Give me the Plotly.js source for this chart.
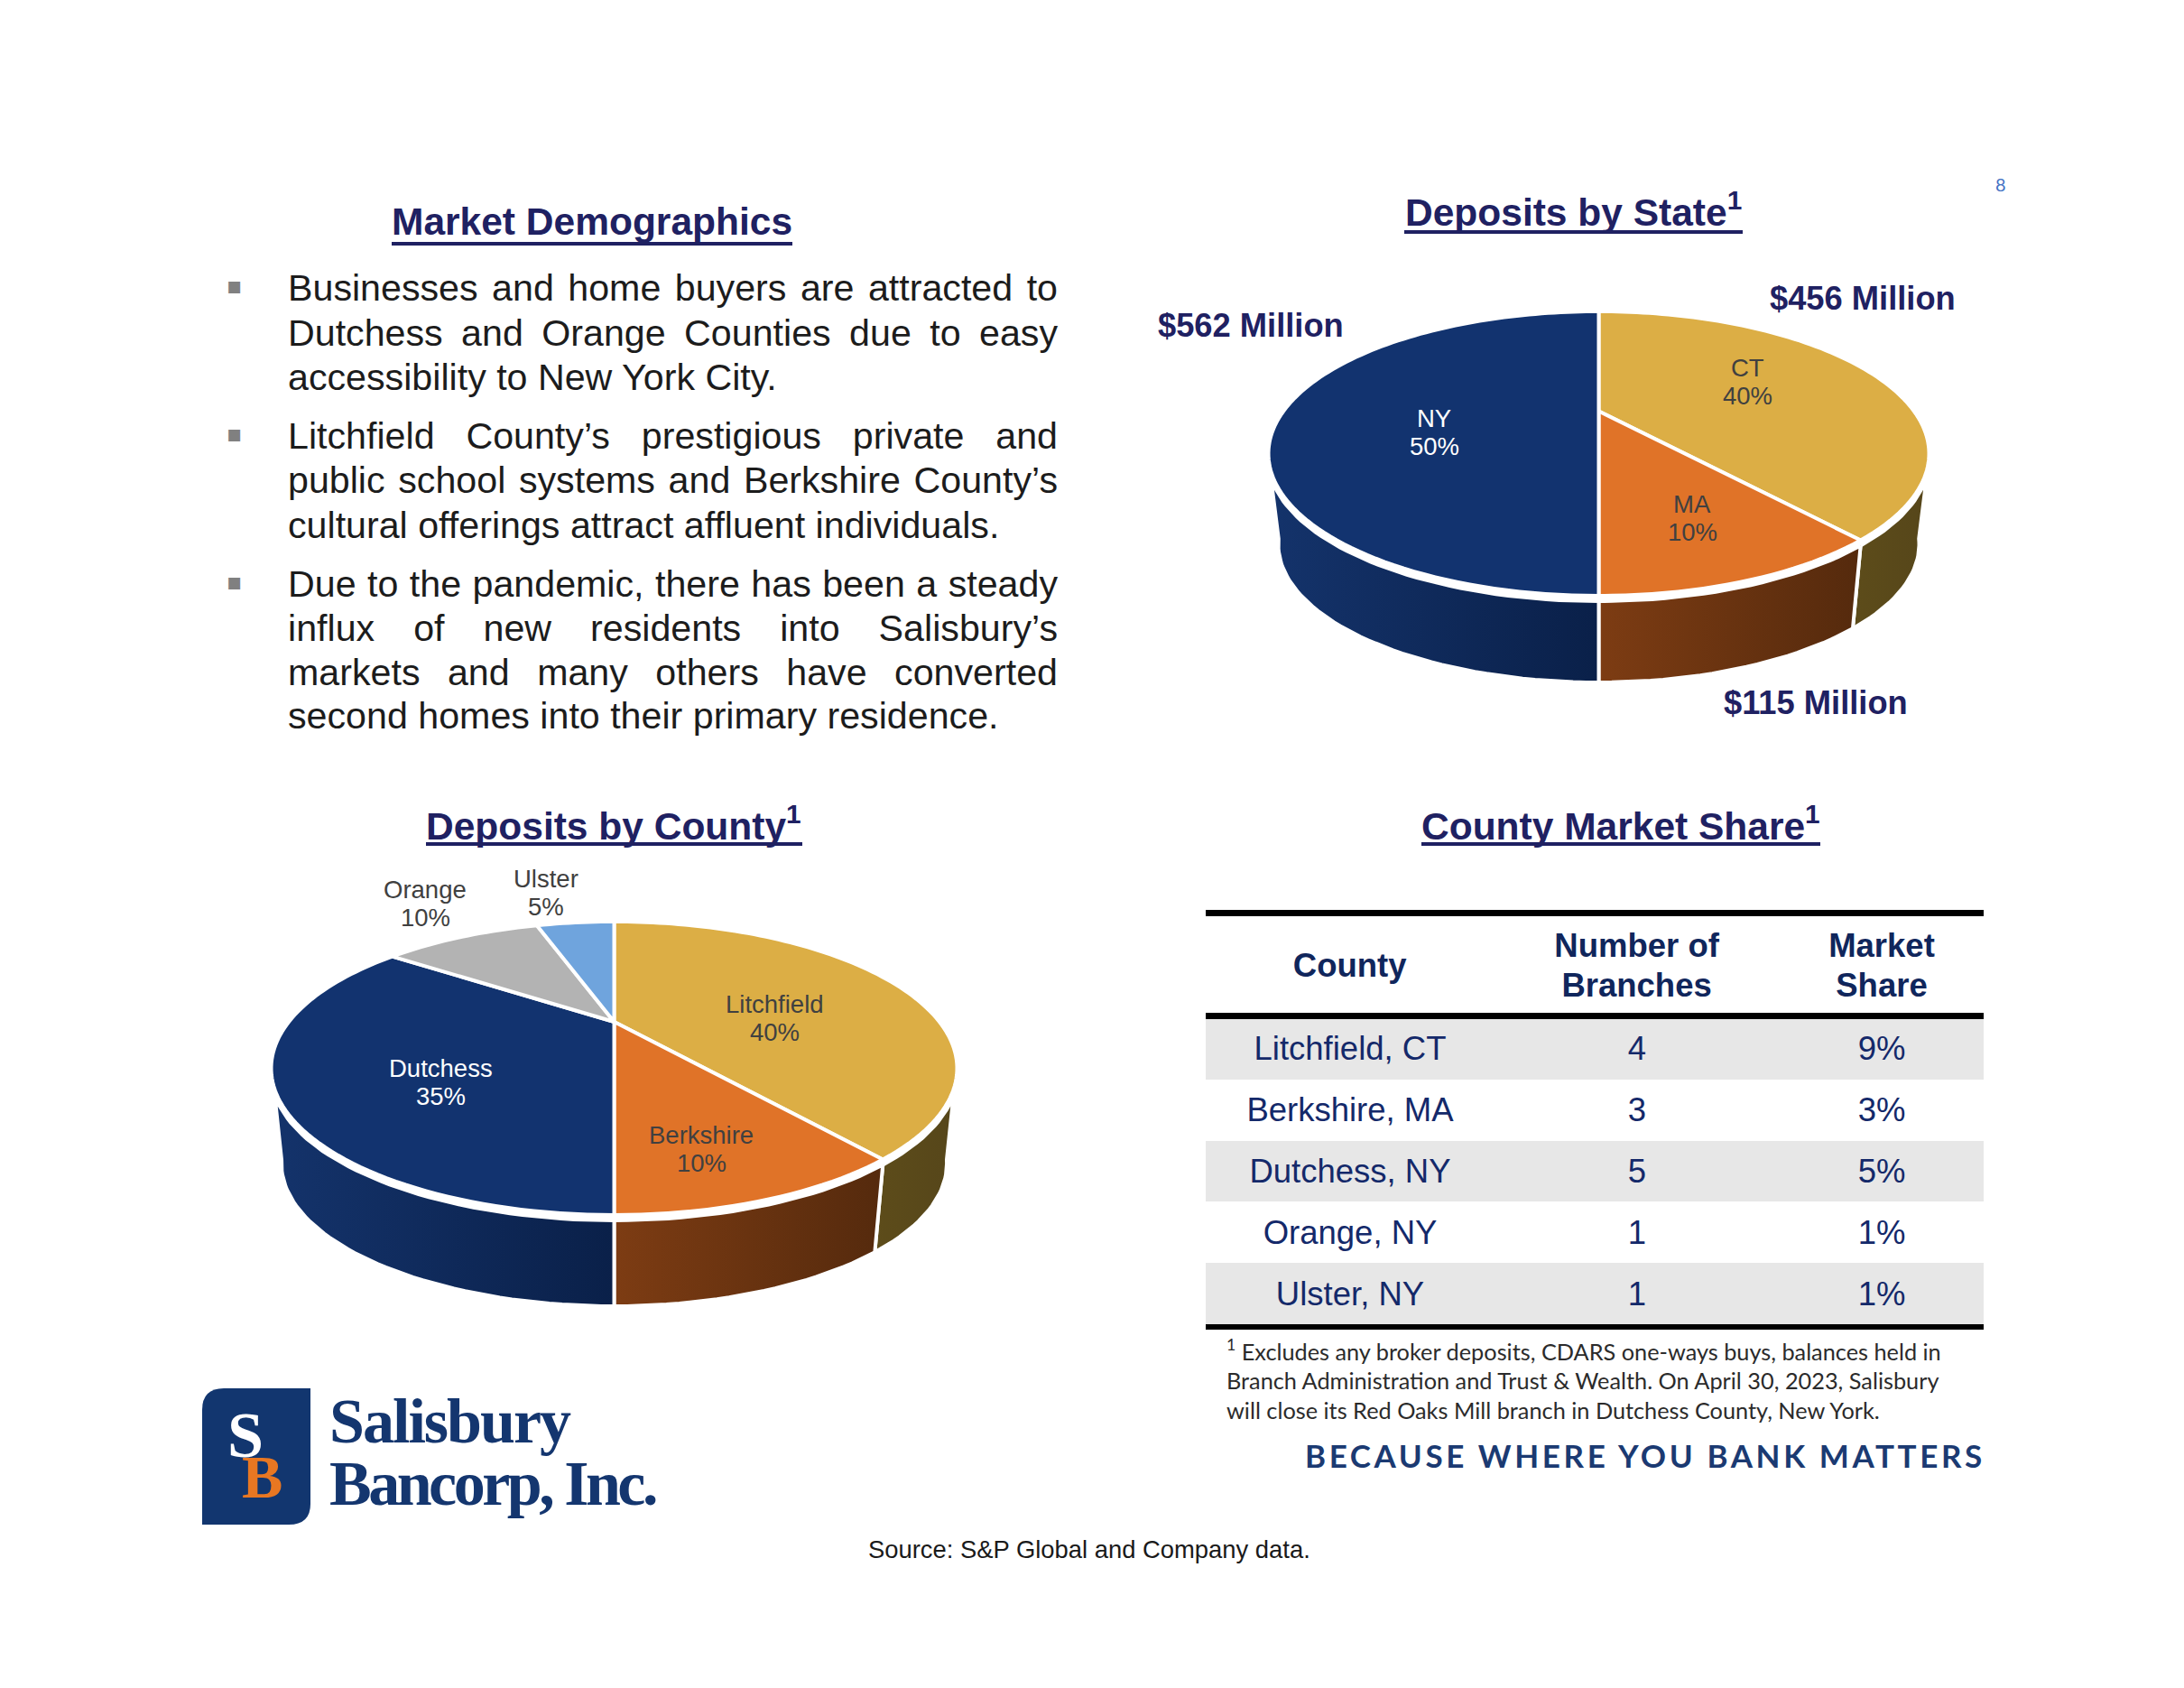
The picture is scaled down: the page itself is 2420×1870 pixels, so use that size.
<!DOCTYPE html>
<html><head><meta charset="utf-8">
<script src="https://cdn.plot.ly/plotly-3.0.1.min.js"></script>
<style>
html,body{margin:0;padding:0;background:#fff}
#chart{width:2420px;height:1870px}
.table .cell-text{transform:translateY(11px)}
</style></head><body><div id="chart"></div>
<script>
// ---- data ----
const stateNames = ['CT','MA','NY'];
const statePercents = [40,10,50];
const stateMillions = [456,115,562];
const countyNames = ['Litchfield','Berkshire','Dutchess','Orange','Ulster'];
const countyPercents = [40,10,35,10,5];
const tableCounties = ['Litchfield, CT','Berkshire, MA','Dutchess, NY','Orange, NY','Ulster, NY'];
const tableBranches = [4,3,5,1,1];
const tableShares = ['9%','3%','5%','1%','1%'];
const tableHeaders = ['County','Number of<br>Branches','Market<br>Share'];
const titles = ['Market Demographics','Deposits by State','Deposits by County','County Market Share'];
const bullets = [
 ['Businesses and home buyers are attracted to','Dutchess and Orange Counties due to easy','accessibility to New York City.'],
 ['Litchfield County’s prestigious private and','public school systems and Berkshire County’s','cultural offerings attract affluent individuals.'],
 ['Due to the pandemic, there has been a steady','influx of new residents into Salisbury’s','markets and many others have converted','second homes into their primary residence.']
];
const footnote = ['<sup>1</sup> Excludes any broker deposits, CDARS one-ways buys, balances held in','Branch Administration and Trust &amp; Wealth. On April 30, 2023, Salisbury','will close its Red Oaks Mill branch in Dutchess County, New York.'];

// ---- styles and placement ----
const NAVY='#12336f',GOLD='#dcae45',ORANGE='#e07328',GREY='#b3b3b3',SKY='#6fa4dd';
const TITLE='#1f2162',INK='#1c1c1c',LABEL='#404040';
const wallNavy=['#14336b','#0a2049'],wallOrange=['#7d3c13','#552a0d'],wallGold=['#5d4c1a','#56461a'],wallGrey=['#777777','#666666'],wallSky=['#445566','#445566'];
const stateColors=[GOLD,ORANGE,NAVY],stateWalls=[wallGold,wallOrange,wallNavy],stateText=[LABEL,LABEL,'#fff'];
const countyColors=[GOLD,ORANGE,NAVY,GREY,SKY],countyWalls=[wallGold,wallOrange,wallNavy,wallGrey,wallSky],countyText=[LABEL,LABEL,'#fff',LABEL,LABEL];
const stateGeom={cx:1771.5,rx:366,top:345,bottom:660,apex:455.5,floor:756,rimY:530,warp:4};
const countyGeom={cx:680.5,rx:380,top:1021,bottom:1346,apex:1132,floor:1447,rimY:1213,warp:2.5};
const stateLabelPos=[[1936,423],[1875,574],[1589,479]];
const countyLabelPos=[[858,1128],[777,1273],[488,1199],[471,1001],[605,989]];
const moneyPos=[[2064,330],[2012,778],[1386,360]];
const FONT='"Liberation Sans", Arial, sans-serif';

function projector(g){
  const c=(2*g.apex-g.top-g.bottom)/(g.top-g.bottom);
  const a=g.top*(1+c)-g.apex;
  const k=g.rx*Math.sqrt(1-c*c);
  const cy=(g.top+g.bottom)/2, s=0.97;
  const dy=g.floor-(cy+s*(g.bottom-cy));
  const pt=(deg,level)=>{
    // the front half of the drawn disc is slightly compressed towards the viewer
    const fold=deg>90&&deg<270?g.warp*Math.sin(2*deg*Math.PI/180):0;
    const t=(deg+fold)*Math.PI/180,X=Math.sin(t),Y=Math.cos(t),w=1+c*Y;
    const x=k*X/w,y=(a*Y+g.apex)/w;
    if(level===0)return [g.cx+x,y];
    if(level===1)return [g.cx+x,y+6];
    return [g.cx+s*x,cy+s*(y-cy)+dy];
  };
  const Y0=(g.apex-g.rimY)/(g.rimY*c-a);
  return {pt,rimDeg:Math.acos(Y0)*180/Math.PI,floorDeg:Math.acos(-c)*180/Math.PI};
}
function arc(p,from,to,level){
  const n=Math.max(2,Math.ceil(Math.abs(to-from)/1.5)),out=[];
  for(let i=0;i<=n;i++)out.push(p.pt(from+(to-from)*i/n,level));
  return out;
}
function pieTraces(values,names,colors,walls,g){
  const p=projector(g),total=values.reduce((s,v)=>s+v,0);
  const wallT=[],topT=[];let start=0;
  values.forEach((v,i)=>{
    const end=start+v/total*360;
    const t0=Math.max(start,p.rimDeg),t1=Math.min(end,360-p.rimDeg);
    const b0=Math.max(start,p.floorDeg),b1=Math.min(end,360-p.floorDeg);
    if(t1>t0){
      const poly=arc(p,t0,t1,1).concat(arc(p,b1,b0,2));
      poly.push(poly[0]);
      wallT.push({type:'scatter',mode:'lines',x:poly.map(q=>q[0]),y:poly.map(q=>q[1]),fill:'toself',
        fillgradient:{type:'horizontal',colorscale:[[0,walls[i][0]],[1,walls[i][1]]]},
        line:{color:'#fff',width:4},hoverinfo:'skip',showlegend:false,name:names[i]+' side'});
    }
    const ap=[g.cx,g.apex];
    const top=[ap].concat(arc(p,start,end,0));top.push(ap);
    topT.push({type:'scatter',mode:'lines',x:top.map(q=>q[0]),y:top.map(q=>q[1]),fill:'toself',fillcolor:colors[i],
      line:{color:'#fff',width:4,simplify:false},hoverinfo:'skip',showlegend:false,name:names[i]});
    start=end;
  });
  return wallT.concat(topT);
}
const ann=(x,y,text,size,color,extra)=>Object.assign({x,y,text,xref:'x',yref:'y',showarrow:false,xanchor:'center',yanchor:'middle',
  font:{family:FONT,size,color},borderpad:0},extra||{});

const annotations=[];
// titles
[[titles[0],656,245],[titles[1]+'<sup>1</sup>',1743,232],[titles[2]+'<sup>1</sup>',680,912],[titles[3]+'<sup>1</sup>',1796,912]]
 .forEach(t=>annotations.push(ann(t[1],t[2],'<b>'+t[0]+'</b>',42.5,TITLE)));
// body text, justified by word spacing
const BODY=41.2;
const cv=document.createElement('canvas').getContext('2d');cv.font=BODY+'px "Liberation Sans"';
const bodyLeft=318,bodyWidth=853;
const lineYs=[[319,369,418],[483,532,582],[647,696,745,793]];
bullets.forEach((lines,i)=>{
  annotations.push(ann(260,lineYs[i][0]-3,'▪',26,'#808080',{font:{family:'"DejaVu Sans"',size:26,color:'#808080'}}));
  lines.forEach((l,j)=>{
    const last=j===lines.length-1,gaps=l.split(' ').length-1;
    const ws=last?0:(bodyWidth-cv.measureText(l).width)/gaps;
    annotations.push(ann(bodyLeft,lineYs[i][j],'<span style="word-spacing:'+ws.toFixed(2)+'px">'+l+'</span>',BODY,INK,{xanchor:'left',align:'left'}));
  });
});
// pie labels
const LABEL_SIZE=27.5,LABEL_GAP=15.5;
function addLabel(pos,name,pct,color){
  annotations.push(ann(pos[0],pos[1]-LABEL_GAP,name,LABEL_SIZE,color));
  annotations.push(ann(pos[0],pos[1]+LABEL_GAP,pct+'%',LABEL_SIZE,color));
}
stateNames.forEach((n,i)=>addLabel(stateLabelPos[i],n,statePercents[i],stateText[i]));
countyNames.forEach((n,i)=>addLabel(countyLabelPos[i],n,countyPercents[i],countyText[i]));
stateMillions.forEach((v,i)=>annotations.push(ann(moneyPos[i][0],moneyPos[i][1],'<b>$'+v+' Million</b>',36.3,TITLE)));
// footnote etc
[1495,1529,1562].forEach((y,i)=>annotations.push(ann(1358,y,footnote[i],25.3,'#2b2b2b',{xanchor:'left',align:'left',font:{family:'Lato',size:25.3,color:'#2b2b2b'}})));
annotations.push(ann(2201,1612,'<b><span style="letter-spacing:3.6px">BECAUSE WHERE YOU BANK MATTERS</span></b>',35,'#1b3a72',{xanchor:'right',font:{family:'Lato',size:35,color:'#1b3a72'}}));
annotations.push(ann(1207,1716,'Source: S&amp;P Global and Company data.',27.4,'#1a1a1a'));
annotations.push(ann(2217,204,'8',20,'#4472c4',{font:{family:'Lato',size:20,color:'#4472c4'}}));
// logo wordmark
const SERIF='"Liberation Serif", serif';
annotations.push(ann(364,1574,'<b><span style="letter-spacing:-2px">Salisbury</span></b>',70,'#14366f',{xanchor:'left',font:{family:SERIF,size:70,color:'#14366f'}}));
annotations.push(ann(364,1643,'<b><span style="letter-spacing:-3.5px">Bancorp, Inc.</span></b>',70,'#14366f',{xanchor:'left',font:{family:SERIF,size:70,color:'#14366f'}}));
annotations.push(ann(272,1590,'<b>S</b>',72,'#fff',{font:{family:SERIF,size:72,color:'#fff'}}));
annotations.push(ann(290,1636,'<b>B</b>',68,'#e87722',{font:{family:SERIF,size:68,color:'#e87722'}}));

const rule=(x0,x1,y0,y1,color)=>({type:'rect',xref:'x',yref:'y',x0,x1,y0,y1,fillcolor:color,line:{width:0}});
const shapes=[
  rule(434,878,268,272,TITLE),rule(1556,1931,255,259,TITLE),rule(472,889,933,937,TITLE),rule(1575,2017,933,937,TITLE),
  rule(1336,2198,1008,1015,'#000'),rule(1336,2198,1122,1129,'#000'),rule(1336,2198,1467,1473,'#000'),
  {type:'path',xref:'x',yref:'y',path:'M 248 1538 L 344 1538 L 344 1666 Q 344 1689 320 1689 L 224 1689 L 224 1562 Q 224 1538 248 1538 Z',fillcolor:'#12366f',line:{width:0}}
];

const rowFill=tableCounties.map((_,i)=>i%2===0?'#e7e7e7':'#ffffff');
const table={type:'table',domain:{x:[1336/2420,2198/2420],y:[(1870-1467)/1870,(1870-1015)/1870]},
  columnwidth:[320,316,226],
  header:{values:tableHeaders.map(h=>'<b>'+h+'</b>'),height:113,align:'center',fill:{color:'rgba(0,0,0,0)'},line:{width:0,color:'rgba(0,0,0,0)'},font:{family:FONT,size:36.5,color:'#10265c'}},
  cells:{values:[tableCounties,tableBranches,tableShares],height:67.8,align:'center',fill:{color:[rowFill,rowFill,rowFill]},line:{width:0,color:'rgba(0,0,0,0)'},font:{family:FONT,size:36.5,color:'#14296a'}}};

const data=pieTraces(statePercents,stateNames,stateColors,stateWalls,stateGeom)
  .concat(pieTraces(countyPercents,countyNames,countyColors,countyWalls,countyGeom))
  .concat([table]);
const hidden=r=>({range:r,visible:false,fixedrange:true,showgrid:false,zeroline:false});
// centre the two-line table headers: the table trace left-aligns the lines of a cell
function centreHeader(){
  document.querySelectorAll('#header .cell-text').forEach(t=>{
    const lines=[...t.querySelectorAll('tspan.line')];
    if(!lines.length){t.style.transform='translateY(37px)';return;}
    t.style.transform='translateY(15px)';
    const ws=lines.map(l=>l.getComputedTextLength()),W=Math.max(...ws);
    lines.forEach((l,i)=>{l.setAttribute('x',(W-ws[i])/2);if(i>0)l.setAttribute('dy','1.2em');});
  });
}
Plotly.newPlot('chart',data,{width:2420,height:1870,margin:{l:0,r:0,t:0,b:0},paper_bgcolor:'#fff',plot_bgcolor:'#fff',showlegend:false,
  xaxis:hidden([0,2420]),yaxis:hidden([1870,0]),annotations,shapes,hovermode:false},{displayModeBar:false,staticPlot:true})
 .then(()=>{centreHeader();requestAnimationFrame(centreHeader);setTimeout(centreHeader,100);});
</script></body></html>
